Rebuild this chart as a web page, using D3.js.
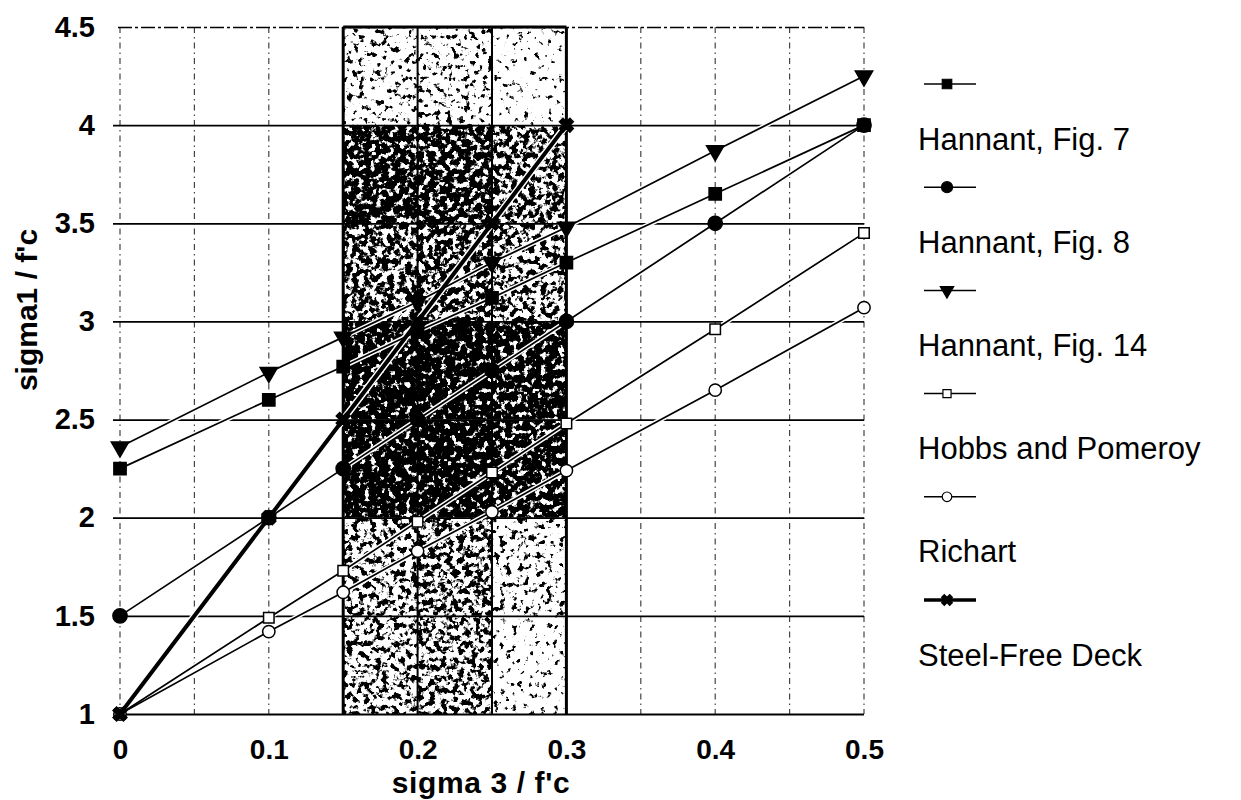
<!DOCTYPE html>
<html>
<head>
<meta charset="utf-8">
<script src="https://cdn.jsdelivr.net/npm/d3@7"></script>
<style>
  html, body { margin: 0; padding: 0; background: #fff; }
  svg { display: block; }
  text { font-family: "Liberation Sans", Arial, sans-serif; fill: #000; }
</style>
</head>
<body>
<svg id="chart" width="1241" height="800"></svg>
<script>
// ---------- data ----------
const xValues    = [0, 0.1, 0.15, 0.2, 0.25, 0.3, 0.4, 0.5];
const hannant7   = [2.25, 2.60, 2.77, 2.95, 3.12, 3.30, 3.65, 4.00];
const hannant8   = [1.50, 2.00, 2.25, 2.50, 2.75, 3.00, 3.50, 4.00];
const hannant14  = [2.36, 2.74, 2.92, 3.10, 3.30, 3.48, 3.87, 4.25];
const hobbs      = [1.00, 1.49, 1.73, 1.98, 2.23, 2.48, 2.96, 3.45];
const richart    = [1.00, 1.42, 1.62, 1.83, 2.03, 2.24, 2.65, 3.07];
const steelFreeX = [0, 0.1, 0.15, 0.2, 0.25, 0.3];
const steelFree  = [1.0, 2.0, 2.5, 3.0, 3.5, 4.0];

const seriesNames = ["Hannant, Fig. 7", "Hannant, Fig. 8", "Hannant, Fig. 14",
                     "Hobbs and Pomeroy", "Richart", "Steel-Free Deck"];
const xTickValues = [0, 0.1, 0.2, 0.3, 0.4, 0.5];
const xTickLabels = ["0", "0.1", "0.2", "0.3", "0.4", "0.5"];
const yTickValues = [1, 1.5, 2, 2.5, 3, 3.5, 4, 4.5];
const yTickLabels = ["1", "1.5", "2", "2.5", "3", "3.5", "4", "4.5"];
const xGridValues = [0, 0.05, 0.1, 0.15, 0.2, 0.25, 0.3, 0.35, 0.4, 0.45, 0.5];
// shaded band (sigma3/f'c from 0.15 to 0.3), cell edges
const bandX = [0.15, 0.2, 0.25, 0.3];
const bandY = [1, 1.5, 2, 2.5, 3, 3.5, 4, 4.5];
// ink density of the stippled cells, rows bottom -> top, columns left -> right
const bandDensity = [
  [0.50, 0.55, 0.22],
  [0.52, 0.58, 0.35],
  [0.90, 0.92, 0.82],
  [0.90, 0.92, 0.86],
  [0.65, 0.68, 0.55],
  [0.80, 0.78, 0.62],
  [0.32, 0.34, 0.18]
];

// ---------- layout ----------
const svg = d3.select("#chart");
const x = d3.scaleLinear().domain([0, 0.5]).range([120, 864]);
const y = d3.scaleLinear().domain([1, 4.5]).range([714, 27]);

const defs = svg.append("defs");

// ---------- stippled band ----------
const levels = Array.from(new Set(bandDensity.flat()));
levels.forEach((d, i) => {
  const t = 0.5 + (0.5 - d) * 0.45;
  const A = 10;
  const f = defs.append("filter").attr("id", "stip" + i)
    .attr("x", 0).attr("y", 0).attr("width", 1).attr("height", 1)
    .attr("color-interpolation-filters", "sRGB");
  f.append("feTurbulence").attr("type", "fractalNoise").attr("baseFrequency", 0.17)
    .attr("numOctaves", 3).attr("seed", 7 + i).attr("result", "n");
  f.append("feColorMatrix").attr("in", "n").attr("type", "matrix")
    .attr("values", `0 0 0 0 0  0 0 0 0 0  0 0 0 0 0  ${A} 0 0 0 ${-A * t}`).attr("result", "a");
  f.append("feComposite").attr("in", "SourceGraphic").attr("in2", "a").attr("operator", "in");
});

const band = svg.append("g");
for (let r = 0; r < bandY.length - 1; r++) {
  for (let c = 0; c < bandX.length - 1; c++) {
    const d = bandDensity[r][c];
    band.append("rect")
      .attr("x", x(bandX[c])).attr("y", y(bandY[r + 1]))
      .attr("width", x(bandX[c + 1]) - x(bandX[c]))
      .attr("height", y(bandY[r]) - y(bandY[r + 1]))
      .attr("fill", "#000")
      .attr("filter", `url(#stip${levels.indexOf(d)})`);
  }
}

// ---------- grid ----------
const vgrid = svg.append("g");
vgrid.selectAll("line").data(xGridValues).join("line")
  .attr("x1", d => x(d)).attr("x2", d => x(d))
  .attr("y1", y(4.5)).attr("y2", y(1))
  .attr("stroke", d => (d >= 0.15 && d <= 0.3) ? "#000" : "#444")
  .attr("stroke-width", d => (d === 0.15 || d === 0.3) ? 3 : (d > 0.15 && d < 0.3 ? 2 : 1.2))
  .attr("stroke-dasharray", d => (d >= 0.15 && d <= 0.3) ? null : "6,4,1.5,4");

// y axis with horizontal gridlines
const yAxis = d3.axisLeft(y).tickValues(yTickValues)
  .tickFormat((d, i) => yTickLabels[i])
  .tickSizeInner(-(864 - 113)).tickSizeOuter(0).tickPadding(18);
const gy = svg.append("g").attr("transform", "translate(113,0)").call(yAxis);
gy.select(".domain").remove();
gy.selectAll(".tick line").attr("stroke", "#000").attr("stroke-width", 1.8);
gy.selectAll(".tick").filter(d => d === 4.5).select("line")
  .attr("x1", 5).attr("stroke-dasharray", "14,3,3,3").attr("stroke-width", 1.6);
gy.selectAll(".tick text").style("font-size", "29px").style("font-weight", "bold")
  .style("font-family", "'Liberation Sans', Arial, sans-serif");

// band top edge
svg.append("line").attr("x1", x(0.15)).attr("x2", x(0.3)).attr("y1", y(4.5)).attr("y2", y(4.5))
  .attr("stroke", "#000").attr("stroke-width", 3);

// x axis labels
const xAxis = d3.axisBottom(x).tickValues(xTickValues)
  .tickFormat((d, i) => xTickLabels[i]).tickSize(0).tickPadding(25);
const gx = svg.append("g").attr("transform", `translate(0,${y(1)})`).call(xAxis);
gx.select(".domain").remove();
gx.selectAll(".tick text").style("font-size", "28px").style("font-weight", "bold")
  .style("font-family", "'Liberation Sans', Arial, sans-serif");

// axis titles
svg.append("text").attr("x", 481).attr("y", 793).attr("text-anchor", "middle")
  .style("font-size", "30px").style("font-weight", "bold").style("letter-spacing", "0.6px")
  .text("sigma 3 / f'c");
svg.append("text").attr("transform", "translate(37,310) rotate(-90)").attr("text-anchor", "middle")
  .style("font-size", "30px").style("font-weight", "bold").text("sigma1 / f'c");

// ---------- series ----------
const series = [
  { name: seriesNames[0], xs: xValues, ys: hannant7, sym: d3.symbolSquare, size: 150, fill: "#000", rot: 0, w: 1.7 },
  { name: seriesNames[1], xs: xValues, ys: hannant8, sym: d3.symbolCircle, size: 160, fill: "#000", rot: 0, w: 1.7 },
  { name: seriesNames[2], xs: xValues, ys: hannant14, sym: d3.symbolTriangle, size: 130, fill: "#000", rot: 180, w: 1.7 },
  { name: seriesNames[3], xs: xValues, ys: hobbs, sym: d3.symbolSquare, size: 110, fill: "none", rot: 0, w: 1.7 },
  { name: seriesNames[4], xs: xValues, ys: richart, sym: d3.symbolCircle, size: 120, fill: "none", rot: 0, w: 1.7 },
  { name: seriesNames[5], xs: steelFreeX, ys: steelFree, sym: d3.symbolCross, size: 120, fill: "#000", rot: 45, w: 4 }
];

const line = d3.line().x(d => x(d[0])).y(d => y(d[1]));
const gs = svg.append("g");
series.forEach(s => {
  const pts = s.xs.map((v, i) => [v, s.ys[i]]);
  gs.append("path").datum(pts).attr("d", line).attr("fill", "none")
    .attr("stroke", "#fff").attr("stroke-width", s.w + 3).attr("stroke-linejoin", "round");
});
series.forEach(s => {
  const pts = s.xs.map((v, i) => [v, s.ys[i]]);
  gs.append("path").datum(pts).attr("d", line).attr("fill", "none")
    .attr("stroke", "#000").attr("stroke-width", s.w).attr("stroke-linejoin", "round");
});
series.forEach(s => {
  const pts = s.xs.map((v, i) => [v, s.ys[i]]);
  gs.append("g").selectAll("path").data(pts).join("path")
    .attr("transform", d => `translate(${x(d[0])},${y(d[1])}) rotate(${s.rot})`)
    .attr("d", d3.symbol().type(s.sym).size(s.size))
    .attr("fill", s.fill === "none" ? "#fff" : s.fill)
    .attr("stroke", "#000").attr("stroke-width", 1.5);
});

// ---------- legend ----------
const lg = svg.append("g");
series.forEach((s, i) => {
  const sy = 84 + i * 103.2;
  const g = lg.append("g");
  g.append("line").attr("x1", 924).attr("x2", 976).attr("y1", sy).attr("y2", sy)
    .attr("stroke", "#000").attr("stroke-width", s.w === 4 ? 3.5 : 1.5);
  g.append("path").attr("transform", `translate(947,${sy}) rotate(${s.rot})`)
    .attr("d", d3.symbol().type(s.sym).size(s.size * 0.6))
    .attr("fill", s.fill === "none" ? "#fff" : s.fill)
    .attr("stroke", "#000").attr("stroke-width", 1.2);
  g.append("text").attr("x", 918).attr("y", 150 + i * 103.1)
    .style("font-size", "31px").text(s.name);
});
</script>
</body>
</html>
